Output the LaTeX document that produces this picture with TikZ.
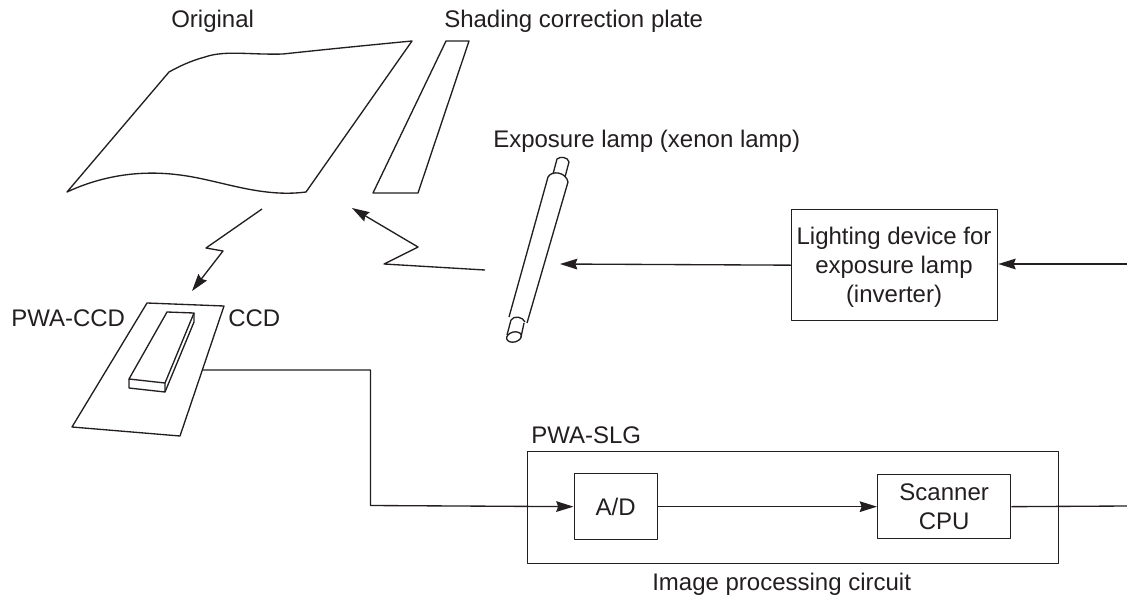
\documentclass[tikz,border=0pt]{standalone}
\usepackage{fontspec}
\setmainfont{Liberation Sans}
\usetikzlibrary{arrows.meta}
\definecolor{ink}{HTML}{231F20}
\tikzset{
  line/.style={draw=ink,line width=1pt,line join=round},
  arrowline/.style={line,-{Stealth[length=13pt,width=8pt,inset=1.5pt]}},
  blockbox/.style={line,anchor=north west,align=center,inner sep=0pt,text=ink,font=\fontsize{18}{21.75}\selectfont},
  blocktext/.style={align=center,inner sep=0pt,text=ink,font=\fontsize{18}{21.75}\selectfont},
  lbl/.style={anchor=base west,inner sep=0pt,text=ink,font=\fontsize{18}{21.75}\selectfont},
}
\begin{document}
\begin{tikzpicture}[x=0.75pt,y=-0.75pt]
\path[use as bounding box,fill=white] (0,0) rectangle (1127,596);
% Labels
\node[lbl] (original) at (171,27) {Original};
\node[lbl] (plate) at (444,27) {Shading correction plate};
\node[lbl] (lamp) at (493,147) {Exposure lamp (xenon lamp)};
\node[lbl] (pwaccd) at (11,326) {PWA-CCD};
\node[lbl] (ccd) at (228,326) {CCD};
\node[lbl] (pwaslg) at (531,443) {PWA-SLG};
\node[lbl] (imgproc) at (652,590) {Image processing circuit};
% Original
\draw[line] (67,192) .. controls (110,172) and (150,171) .. (180,175)
  .. controls (220,180) and (260,198) .. (306,192) -- (412,41)
  .. controls (370,45) and (320,50) .. (283,54)
  .. controls (250,55) and (225,50) .. (205,57)
  .. controls (190,61) and (178,67) .. (169,72) -- cycle;
% Plate
\draw[line] (446,41) -- (469,41) -- (418,193) -- (373,193) -- cycle;
% Light paths
\coordinate (z1s) at (262,209);
\coordinate (z1a) at (206,248);
\coordinate (z1b) at (223,251);
\coordinate (z1e) at (192,291);
\draw[arrowline] (z1s) -- (z1a) -- (z1b) -- (z1e);
\coordinate (z2s) at (485,270);
\coordinate (z2a) at (384,264);
\coordinate (z2b) at (418,247);
\coordinate (z2e) at (352,208);
\draw[arrowline] (z2s) -- (z2a) -- (z2b) -- (z2e);
% Lamp
\draw[line] (509,317) -- (548,177) .. controls (552,170) and (566,172) .. (568,182) -- (527,323);
\draw[line] (553,174) -- (557,159) .. controls (560,156) and (568,157) .. (569,162) -- (565,177);
\draw[line] (511,320) .. controls (514,315) and (523,317) .. (525,322);
\draw[line] (511,320) -- (507,335);
\draw[line] (524,323) -- (521,337);
\draw[line,rotate around={15:(514,337)}] (514,337) ellipse (7.5 and 5);
% PWA-CCD board
\draw[line] (147,303) -- (224,306) -- (180,436) -- (72,427) -- cycle;
\draw[line] (167,312) -- (194,313) -- (165,383) -- (129,379) -- cycle;
\draw[line] (129,379) -- (129,388) -- (165,392) -- (165,383);
\draw[line] (165,392) -- (194,322) -- (194,313);
% Blocks
\node[blockbox,minimum width=154.5pt,minimum height=83.25pt] (light) at (791,209) {};
\node[blocktext] (lighttext) at (894,267.5) {Lighting device for\\exposure lamp\\(inverter)};
\node[blockbox,minimum width=398.25pt,minimum height=84pt] (slg) at (527,451) {};
\node[blockbox,minimum width=62.25pt,minimum height=49.5pt] (ad) at (573.5,473) {A/D};
\node[blockbox,minimum width=99.75pt,minimum height=48pt] (cpu) at (877,474) {Scanner\\CPU};
\coordinate (inR) at (1127,264);
\coordinate (outR) at (1127,506);
\coordinate (lampin) at (560,264);
\coordinate (ccdout) at (203,370);
% Connectors
\draw[arrowline] (inR) -- (light.east |- inR);
\draw[arrowline] (light.west) -- (lampin);
\draw[arrowline] (ccdout) -- (370.5,370) -- (370.5,505.5) -- (ad.west);
\draw[arrowline] (ad.east) -- (cpu.west);
\draw[line] (cpu.east) -- (outR);
\end{tikzpicture}
\end{document}
